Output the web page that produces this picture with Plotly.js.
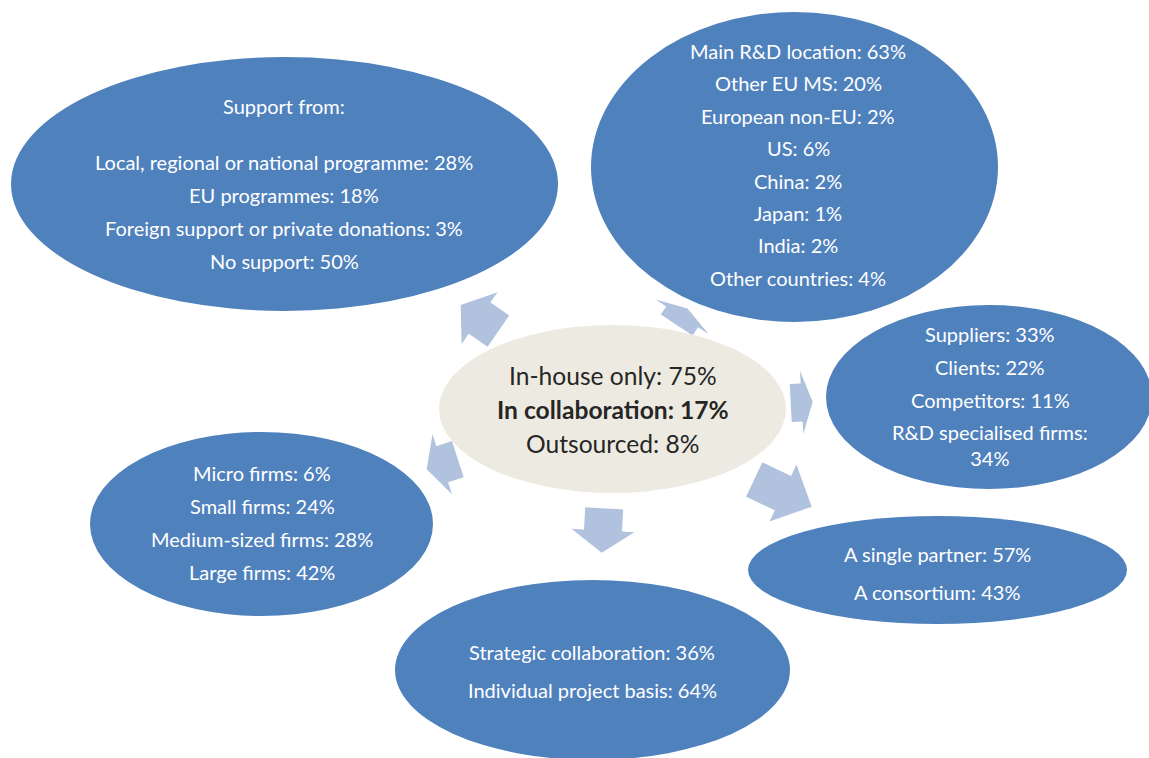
<!DOCTYPE html>
<html>
<head>
<meta charset="utf-8">
<script src="https://cdn.plot.ly/plotly-3.0.1.min.js"></script>
<style>
html,body{margin:0;padding:0;background:#ffffff;}
#chart{width:1149px;height:758px;}
</style>
</head>
<body>
<div id="chart"></div>
<script>
// ---------------- DATA ----------------
const centreLabels = ['In-house only', 'In collaboration', 'Outsourced'];
const centreValues = [75, 17, 8];

const supportTitle = 'Support from:';
const supportLabels = ['Local, regional or national programme', 'EU programmes', 'Foreign support or private donations', 'No support'];
const supportValues = [28, 18, 3, 50];

const locationLabels = ['Main R&D location', 'Other EU MS', 'European non-EU', 'US', 'China', 'Japan', 'India', 'Other countries'];
const locationValues = [63, 20, 2, 6, 2, 1, 2, 4];

const partnerLabels = ['Suppliers', 'Clients', 'Competitors', 'R&D specialised firms'];
const partnerValues = [33, 22, 11, 34];

const structureLabels = ['A single partner', 'A consortium'];
const structureValues = [57, 43];

const basisLabels = ['Strategic collaboration', 'Individual project basis'];
const basisValues = [36, 64];

const sizeLabels = ['Micro firms', 'Small firms', 'Medium-sized firms', 'Large firms'];
const sizeValues = [6, 24, 28, 42];

// ---------------- LAYOUT CONFIG ----------------
const W = 1149, H = 758;
const FONT = 'Lato, "Open Sans", sans-serif';
const BLUE = '#4F81BD', BEIGE = '#EDEBE1', ARROW = '#B0C2DE';
const OUTER_SIZE = 20, CENTRE_SIZE = 24.6;

function lines(labels, values) { return labels.map((l, i) => l + ': ' + values[i] + '%'); }

const bubbles = [
  {x0: 11, x1: 558, y0: 57, y1: 311, tx: 284, ty: 162, dy: 33,
   header: {text: supportTitle, y: 106}, lines: lines(supportLabels, supportValues)},
  {x0: 591, x1: 998, y0: 12, y1: 322, tx: 798, ty: 51, dy: 32.4,
   lines: lines(locationLabels, locationValues)},
  {x0: 826, x1: 1152, y0: 305, y1: 489, tx: 990, ty: 334, dy: 33, wrapLast: true,
   lines: lines(partnerLabels, partnerValues)},
  {x0: 748, x1: 1127, y0: 516, y1: 624, tx: 937, ty: 554, dy: 38,
   lines: lines(structureLabels, structureValues)},
  {x0: 395, x1: 790, y0: 580, y1: 760, tx: 592, ty: 652, dy: 38,
   lines: lines(basisLabels, basisValues)},
  {x0: 90, x1: 433, y0: 432, y1: 616, tx: 262, ty: 473, dy: 33,
   lines: lines(sizeLabels, sizeValues)}
];

const centre = {x0: 439, x1: 786, y0: 325, y1: 493, tx: 612.5, ty: 375, dy: 34};

// arrows: tail centre, direction (deg, screen), total length
const arrows = [
  {x: 498.4, y: 331.2, a: -145.2, L: 45.9},
  {x: 676.7, y: 325.0, a: -56.8, L: 19.7},
  {x: 790.7, y: 403.0, a: -3.0, L: 22.0},
  {x: 754.2, y: 479.5, a: 25.3, L: 63.6},
  {x: 604.2, y: 508.3, a: 93.2, L: 44.5},
  {x: 457.8, y: 459.2, a: 162.0, L: 32.7}
];
const SHAFT_W = 38, HEAD_W = 63;

function arrowPath(ar) {
  const r = ar.a * Math.PI / 180;
  const d = [Math.cos(r), Math.sin(r)], n = [-Math.sin(r), Math.cos(r)];
  const hl = ar.L / 2, sw = SHAFT_W / 2, hw = HEAD_W / 2;
  const base = [ar.x + d[0] * (ar.L - hl), ar.y + d[1] * (ar.L - hl)];
  const tip = [ar.x + d[0] * ar.L, ar.y + d[1] * ar.L];
  const pts = [
    [ar.x + n[0] * sw, ar.y + n[1] * sw],
    [base[0] + n[0] * sw, base[1] + n[1] * sw],
    [base[0] + n[0] * hw, base[1] + n[1] * hw],
    tip,
    [base[0] - n[0] * hw, base[1] - n[1] * hw],
    [base[0] - n[0] * sw, base[1] - n[1] * sw],
    [ar.x - n[0] * sw, ar.y - n[1] * sw]
  ];
  return 'M' + pts.map(p => p[0].toFixed(1) + ',' + p[1].toFixed(1)).join(' L') + ' Z';
}

// ---------------- BUILD ----------------
const shapes = [];
const annotations = [];

bubbles.forEach(b => {
  shapes.push({type: 'circle', xref: 'x', yref: 'y', x0: b.x0, x1: b.x1, y0: b.y0, y1: b.y1,
    fillcolor: BLUE, line: {width: 0}, layer: 'above'});
  if (b.header) {
    annotations.push({x: b.tx, y: b.header.y, xref: 'x', yref: 'y', text: b.header.text, showarrow: false,
      xanchor: 'center', yanchor: 'middle', font: {family: FONT, size: OUTER_SIZE, color: '#ffffff'}});
  }
  b.lines.forEach((t, i) => {
    let txt = t, y = b.ty + i * b.dy;
    if (b.wrapLast && i === b.lines.length - 1) { txt = t.replace(': ', ':<br>'); y += 11.5; }
    annotations.push({x: b.tx, y: y, xref: 'x', yref: 'y', text: txt, showarrow: false,
      xanchor: 'center', yanchor: 'middle', align: 'center',
      font: {family: FONT, size: OUTER_SIZE, color: '#ffffff'}});
  });
});

arrows.forEach(ar => {
  shapes.push({type: 'path', xref: 'x', yref: 'y', path: arrowPath(ar), fillcolor: ARROW, line: {width: 0}, layer: 'above'});
});

shapes.push({type: 'circle', xref: 'x', yref: 'y', x0: centre.x0, x1: centre.x1, y0: centre.y0, y1: centre.y1,
  fillcolor: BEIGE, line: {width: 0}, layer: 'above'});

lines(centreLabels, centreValues).forEach((t, i) => {
  annotations.push({x: centre.tx, y: centre.ty + i * centre.dy, xref: 'x', yref: 'y',
    text: i === 1 ? '<b>' + t + '</b>' : t, showarrow: false, xanchor: 'center', yanchor: 'middle',
    font: {family: FONT, size: CENTRE_SIZE, color: '#262626'}});
});

const layout = {
  width: W, height: H,
  margin: {l: 0, r: 0, t: 0, b: 0},
  paper_bgcolor: '#ffffff', plot_bgcolor: '#ffffff',
  showlegend: false,
  xaxis: {range: [0, W], visible: false, fixedrange: true},
  yaxis: {range: [H, 0], visible: false, fixedrange: true},
  shapes: shapes,
  annotations: annotations
};

Plotly.newPlot('chart', [{x: [], y: [], type: 'scatter', hoverinfo: 'skip'}], layout,
  {displayModeBar: false, staticPlot: true});
</script>
</body>
</html>
